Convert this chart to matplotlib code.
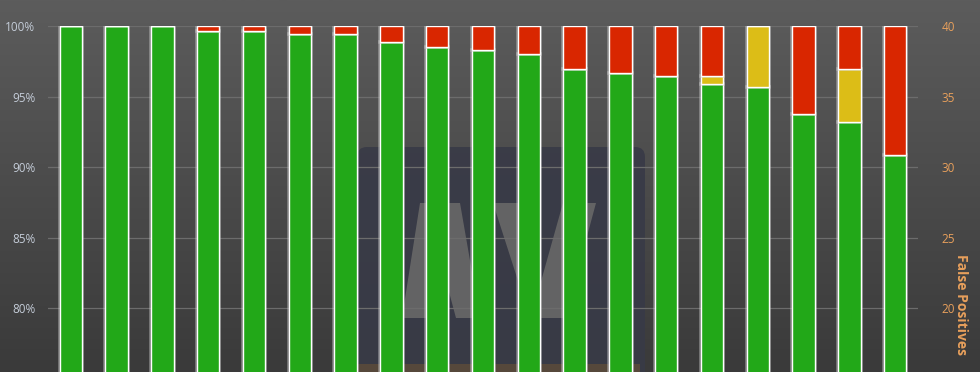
import numpy as np
import matplotlib
matplotlib.use("Agg")
import matplotlib.pyplot as plt
from matplotlib.patches import FancyBboxPatch, Polygon, Rectangle
from matplotlib import patheffects as pe

# Protection-rate breakdown per product (percent of samples)
blocked = [100, 100, 100, 99.7, 99.7, 99.45, 99.45, 98.9, 98.55, 98.35,
           98.0, 96.95, 96.7, 96.45, 95.9, 95.7, 93.8, 93.2, 90.85]
user_dependent = [0, 0, 0, 0, 0, 0, 0, 0, 0, 0,
                  0, 0, 0, 0, 0.55, 4.3, 0, 3.75, 0]
compromised = [0, 0, 0, 0.3, 0.3, 0.55, 0.55, 1.1, 1.45, 1.65,
               2.0, 3.05, 3.3, 3.55, 3.55, 0, 6.2, 3.05, 9.15]

pct_ticks = [80, 85, 90, 95, 100]
pct_labels = ["80%", "85%", "90%", "95%", "100%"]
fp_ticks = [20, 25, 30, 35, 40]
fp_labels = ["20", "25", "30", "35", "40"]

W, H = 980, 372
fig = plt.figure(figsize=(W / 100, H / 100), dpi=100)

# vertical gradient backdrop
bg = fig.add_axes([0, 0, 1, 1], zorder=-10)
grad = np.linspace(0, 1, 256).reshape(-1, 1)
top = np.array([92, 92, 92]) / 255
bot = np.array([58, 58, 58]) / 255
img = top + (bot - top) * grad[..., None]
bg.imshow(img, aspect="auto", extent=[0, W, H, 0])
bg.set_xlim(0, W)
bg.set_ylim(H, 0)
bg.axis("off")

# faded logo panel behind the bars
panel = FancyBboxPatch((357, 147), 288, 260, boxstyle="round,pad=0,rounding_size=10",
                       facecolor="#383a47", edgecolor="none", alpha=0.9)
bg.add_patch(panel)
bg.add_patch(Rectangle((357, 364), 283, 10, facecolor="#5a4a3a", edgecolor="none", alpha=0.9))
logo_col = "#666666"
bg.add_patch(Polygon([(402, 318), (420, 203), (460, 203), (480, 318),
                      (456, 318), (441, 262), (426, 318)],
                     closed=True, facecolor=logo_col, edgecolor="none", alpha=0.95))
bg.add_patch(Polygon([(493, 203), (518, 203), (540, 285), (563, 203), (596, 203),
                      (565, 318), (530, 318)],
                     closed=True, facecolor=logo_col, edgecolor="none", alpha=0.95))

ax_left = 48 / W
ax_right = 918 / W
ax_top = 1 - 26.3 / H
ax = fig.add_axes([ax_left, 0, ax_right - ax_left, ax_top])
ax.set_facecolor("none")

x = np.arange(len(blocked))
bw = 0.49
shadow = [pe.Stroke(linewidth=2.6, foreground=(0.78, 0.78, 0.78, 0.5)), pe.Normal()]
b1 = ax.bar(x, blocked, bw, color="#22a818", edgecolor="white", linewidth=1.0, zorder=3)
b2 = ax.bar(x, user_dependent, bw, bottom=blocked, color="#dcbd17",
            edgecolor="white", linewidth=1.0, zorder=3)
base2 = np.array(blocked) + np.array(user_dependent)
b3 = ax.bar(x, compromised, bw, bottom=base2, color="#d92600",
            edgecolor="white", linewidth=1.0, zorder=3)
for cont in (b1, b2, b3):
    for p in cont:
        if p.get_height() > 0:
            p.set_path_effects(shadow)

ax.set_xlim(-0.5, len(blocked) - 0.5)
ax.set_ylim(75.48, 100)
ax.set_yticks(pct_ticks)
ax.set_yticklabels(pct_labels)
ax.set_xticks([])
ax.grid(axis="y", color="#6c6c6c", linewidth=0.9, zorder=0)
ax.set_axisbelow(True)
for s in ax.spines.values():
    s.set_visible(False)
ax.tick_params(axis="y", length=0, pad=9, labelsize=8.5, labelcolor="#c4ccd8")
for t in ax.get_yticklabels():
    t.set_fontfamily("Open Sans")

ax2 = ax.twinx()
ax2.set_ylim(15.48, 40)
ax2.set_yticks(fp_ticks)
ax2.set_yticklabels(fp_labels)
for s in ax2.spines.values():
    s.set_visible(False)
ax2.tick_params(axis="y", length=0, pad=17, labelsize=8.5, labelcolor="#e8a05c")
for t in ax2.get_yticklabels():
    t.set_fontfamily("Open Sans")

fig.text(961 / W, 1 - 254 / H, "False Positives", rotation=270, ha="center", va="top",
         color="#e8a05c", fontsize=10, fontweight="bold", family="Open Sans")

fig.savefig("out.png", dpi=100)
